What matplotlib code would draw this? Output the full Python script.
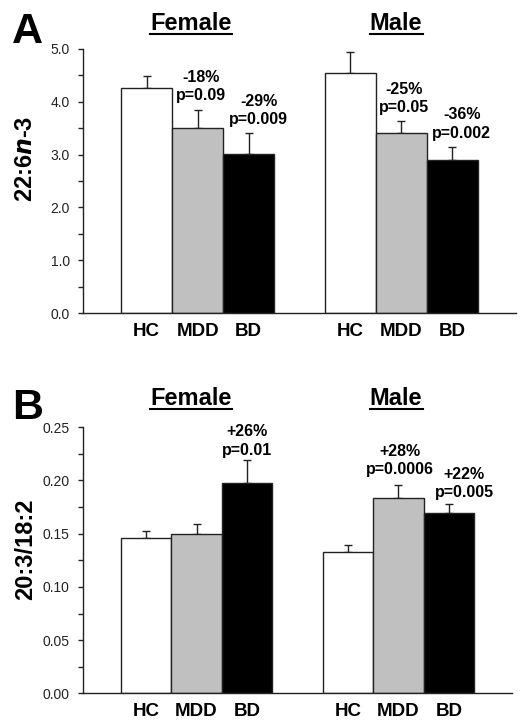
import matplotlib
matplotlib.use("Agg")
import matplotlib.pyplot as plt
from matplotlib.ticker import MultipleLocator, FormatStrFormatter

plt.rcParams['font.family'] = ['Liberation Sans', 'DejaVu Sans']

# ---- data ----
groups = ["HC", "MDD", "BD"]
sexes = ["Female", "Male"]
colors = ["#FFFFFF", "#C0C0C0", "#000000"]

# Panel A: 22:6n-3
dha_female = [4.26, 3.50, 3.02]
dha_female_err = [0.22, 0.34, 0.38]
dha_male = [4.54, 3.40, 2.90]
dha_male_err = [0.40, 0.23, 0.24]
dha_pct = ["", "-18%", "-29%", "", "-25%", "-36%"]
dha_p = ["", "p=0.09", "p=0.009", "", "p=0.05", "p=0.002"]

# Panel B: 20:3/18:2
ratio_female = [0.146, 0.150, 0.198]
ratio_female_err = [0.007, 0.009, 0.021]
ratio_male = [0.133, 0.184, 0.169]
ratio_male_err = [0.006, 0.012, 0.009]
ratio_pct = ["", "", "+26%", "", "+28%", "+22%"]
ratio_p = ["", "", "p=0.01", "", "p=0.0006", "p=0.005"]

fig = plt.figure(figsize=(5.22, 7.26), dpi=100)

xpos = [0, 1, 2, 4, 5, 6]
# annotation offsets in px (dx, baseline dy above error-bar top)
ann_dx_a = [0, 3.5, 10, 0, 2.5, 9.5]
ann_dy_a = [0, 10, 9.5, 0, 9.5, 9.5]
ann_dx_b = [0, 0, 0, 0, 1, 15.5]
ann_dy_b = [0, 0, 5.5, 0, 10.5, 6.5]


def panel(rect, fvals, ferr, mvals, merr, pct, pv, ylim, major, minor, fmt,
          ylabel, ylab_xy, letter, letter_y, title_y, ann_dx, ann_dy):
    ax = fig.add_axes(rect)
    vals = list(fvals) + list(mvals)
    errs = list(ferr) + list(merr)
    cols = colors + colors
    ax.bar(xpos, vals, width=1.0, color=cols, edgecolor="#222222",
           linewidth=1.0, zorder=2)
    ax.errorbar(xpos, vals, yerr=[[0] * 6, errs], fmt="none",
                ecolor="#222222", elinewidth=1.0, capsize=2.6,
                capthick=1.0, zorder=1)
    ax.set_xlim(-1.25, 7.25)
    ax.set_ylim(*ylim)
    ax.yaxis.set_major_locator(MultipleLocator(major))
    ax.yaxis.set_minor_locator(MultipleLocator(minor))
    ax.yaxis.set_major_formatter(FormatStrFormatter(fmt))
    ax.tick_params(axis="y", which="both", direction="out", length=3.5,
                   width=1.0, color="#222222", labelsize=10,
                   labelcolor="#222222", pad=6)
    ax.set_xticks(xpos)
    ax.set_xticklabels(groups + groups, fontsize=13.5, fontweight="bold")
    ax.tick_params(axis="x", length=0, pad=7)
    for s in ["top", "right"]:
        ax.spines[s].set_visible(False)
    for s in ["left", "bottom"]:
        ax.spines[s].set_color("#222222")
        ax.spines[s].set_linewidth(1.0)
    ax.spines["bottom"].set_zorder(3)

    for i in range(6):
        if pv[i]:
            top = vals[i] + errs[i]
            dx = ann_dx[i] * 0.72
            dy = ann_dy[i]
            ax.annotate(pv[i], (xpos[i], top), xytext=(dx, dy * 0.72),
                        textcoords="offset points", ha="center", va="baseline",
                        fontsize=11.5, fontweight="bold", annotation_clip=False)
            ax.annotate(pct[i], (xpos[i], top), xytext=(dx, (dy + 18.3) * 0.72),
                        textcoords="offset points", ha="center", va="baseline",
                        fontsize=11.5, fontweight="bold", annotation_clip=False)

    ax.set_ylabel(ylabel, fontsize=17, fontweight="bold")
    ax.yaxis.set_label_coords(*ylab_xy)

    fig.text(12 / 522, 1 - letter_y / 726, letter, fontsize=31,
             fontweight="bold", ha="left", va="baseline")
    fig.text(191 / 522, 1 - title_y / 726, sexes[0], fontsize=17,
             fontweight="bold", ha="center", va="baseline")
    fig.text(396 / 522, 1 - title_y / 726, sexes[1], fontsize=17,
             fontweight="bold", ha="center", va="baseline")
    fig.add_artist(plt.Line2D([150 / 522, 232 / 522],
                              [1 - (title_y + 4) / 726] * 2,
                              color="black", linewidth=1.5))
    fig.add_artist(plt.Line2D([370 / 522, 423 / 522],
                              [1 - (title_y + 4) / 726] * 2,
                              color="black", linewidth=1.5))
    return ax


panel([83 / 522, 1 - 313 / 726, 433 / 522, 264 / 726],
      dha_female, dha_female_err, dha_male, dha_male_err, dha_pct, dha_p,
      (0, 5.0), 1.0, 0.5, "%.1f", r"22:6$\boldsymbol{n}$-3", (-0.106, 0.585),
      "A", 43, 30, ann_dx_a, ann_dy_a)

panel([83 / 522, 1 - 693.3 / 726, 429 / 522, 266 / 726],
      ratio_female, ratio_female_err, ratio_male, ratio_male_err, ratio_pct,
      ratio_p, (0, 0.25), 0.05, 0.025, "%.2f", "20:3/18:2", (-0.107, 0.54),
      "B", 419, 405, ann_dx_b, ann_dy_b)

fig.savefig("out.png", dpi=100)
